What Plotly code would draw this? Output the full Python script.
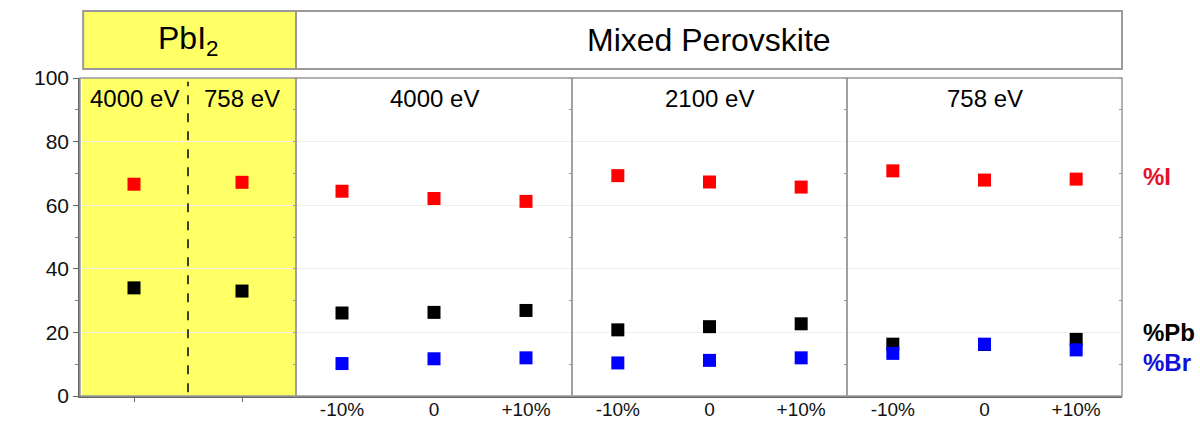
import plotly.graph_objects as go

# ---------------- data ----------------
pbi2_energies = ["4000 eV", "758 eV"]
pbi2_I = [66.6, 67.2]
pbi2_Pb = [34.0, 33.0]

mixed_energies = ["4000 eV", "2100 eV", "758 eV"]
mixed_cats = ["-10%", "0", "+10%"]
mixed_I = [[64.4, 62.1, 61.2], [69.3, 67.3, 65.7], [70.8, 67.9, 68.2]]
mixed_Pb = [[26.1, 26.3, 26.9], [20.8, 21.8, 22.7], [16.3, 16.2, 17.8]]
mixed_Br = [[10.2, 11.7, 12.0], [10.4, 11.2, 12.0], [13.4, 16.3, 14.5]]

y_ticks = [0, 20, 40, 60, 80, 100]
header_labels = ["PbI<sub>2</sub>", "Mixed Perovskite"]
series_labels = ["%I", "%Pb", "%Br"]
series_colors = ["#ff0000", "#000000", "#0000ff"]
label_colors = ["#e4112b", "#000000", "#1010d8"]
label_y = [68.9, 20.1, 10.4]

# ---------------- layout geometry ----------------
W, H = 1200, 423
ml, mr, mt, mb = 80, 78, 10, 27
pw = W - ml - mr
ph = H - mt - mb
edges_px = [80, 296, 572, 847, 1122]
edges = [(e - ml) / pw for e in edges_px]
ytop = (396 - 78) / ph
hdr_bot = (396 - 69) / ph
hdr_top = (396 - 11) / ph

FONT = "Liberation Sans, Arial, sans-serif"
GRAY = "#9a9a9a"

fig = go.Figure()

msize = 13
# PbI2 panel
for vals, col in [(pbi2_I, series_colors[0]), (pbi2_Pb, series_colors[1])]:
    fig.add_trace(go.Scatter(x=pbi2_energies, y=vals, mode="markers", xaxis="x", yaxis="y",
                             marker=dict(symbol="square", size=msize, color=col), showlegend=False))
# Mixed panels
for i in range(3):
    xa = "x%d" % (i + 2)
    for vals, col in [(mixed_I[i], series_colors[0]), (mixed_Pb[i], series_colors[1]),
                      (mixed_Br[i], series_colors[2])]:
        fig.add_trace(go.Scatter(x=mixed_cats, y=vals, mode="markers", xaxis=xa, yaxis="y",
                                 marker=dict(symbol="square", size=msize, color=col), showlegend=False))

layout = dict(
    width=W, height=H, margin=dict(l=ml, r=mr, t=mt, b=mb, autoexpand=False),
    paper_bgcolor="white", plot_bgcolor="white",
    font=dict(family=FONT, color="black"),
    yaxis=dict(domain=[0, ytop], range=[0, 100], tickvals=y_ticks, ticks="outside", ticklen=5,
               tickcolor="#666", tickfont=dict(size=21, family=FONT, color="#111"),
               showline=True, linecolor="#666", linewidth=1.5, showgrid=True, gridcolor="#efefef",
               zeroline=False, minor=dict(dtick=10, ticks="outside", ticklen=3, tickcolor="#888", showgrid=False),
               anchor="x", fixedrange=True, automargin=False),
    xaxis=dict(domain=[edges[0], edges[1]], type="category", categoryarray=pbi2_energies,
               range=[-0.5, 1.5], showticklabels=False, ticks="outside", ticklen=4, tickcolor="#666",
               showline=True, linecolor="#666", linewidth=1.5, showgrid=False, zeroline=False, anchor="y",
               automargin=False),
)
for i in range(3):
    layout["xaxis%d" % (i + 2)] = dict(
        domain=[edges[i + 1], edges[i + 2]], type="category", categoryarray=mixed_cats,
        range=[-0.5, 2.5], tickfont=dict(size=19, family=FONT, color="#111"), ticks="",
        ticklabelstandoff=-5,
        showline=True, linecolor="#666", linewidth=1.5, showgrid=False, zeroline=False, anchor="y",
        automargin=False)
# small ticks on the panel dividers
for j, e in enumerate(edges[1:]):
    layout["yaxis%d" % (j + 2)] = dict(
        domain=[0, ytop], range=[0, 100], overlaying="y", anchor="free", position=e,
        dtick=10, ticks="outside", ticklen=3, tickcolor="#999", showticklabels=False,
        showline=False, showgrid=False, zeroline=False, automargin=False)
fig.update_layout(**layout)
for j in range(4):
    fig.add_trace(go.Scatter(x=[None], y=[None], xaxis="x", yaxis="y%d" % (j + 2), showlegend=False,
                             hoverinfo="skip"))

shapes = []
shapes.append(dict(type="rect", xref="paper", yref="paper", x0=edges[0] + 0.002, x1=edges[1],
                   y0=0, y1=ytop, fillcolor="#ffff66", line=dict(width=0), layer="below"))
for i in range(4):
    shapes.append(dict(type="rect", xref="paper", yref="paper", x0=edges[i], x1=edges[i + 1],
                       y0=0, y1=ytop, line=dict(color=GRAY, width=1.5), layer="above"))
shapes.append(dict(type="line", xref="x", yref="paper", x0=0.5, x1=0.5, y0=0.01, y1=ytop - 0.01,
                   line=dict(color="black", width=1.5, dash="dash")))
shapes.append(dict(type="rect", xref="paper", yref="paper", x0=edges[0] + 0.003, x1=edges[1],
                   y0=hdr_bot, y1=hdr_top, fillcolor="#ffff66", line=dict(color=GRAY, width=2)))
shapes.append(dict(type="rect", xref="paper", yref="paper", x0=edges[1], x1=edges[4],
                   y0=hdr_bot, y1=hdr_top, fillcolor="white", line=dict(color=GRAY, width=2)))
fig.update_layout(shapes=shapes)

ann = []
hy = (hdr_bot + hdr_top) / 2
ann.append(dict(xref="paper", yref="paper", x=(edges[0] + edges[1]) / 2, y=hy, xanchor="center",
                yanchor="middle", text=header_labels[0], showarrow=False, font=dict(size=32, family=FONT)))
ann.append(dict(xref="paper", yref="paper", x=(edges[1] + edges[4]) / 2, y=hy, xanchor="center",
                yanchor="middle", text=header_labels[1], showarrow=False, font=dict(size=32, family=FONT)))
for k, en in enumerate(pbi2_energies):
    ann.append(dict(xref="x", yref="y", x=en, y=93.5, text=en, showarrow=False, yanchor="middle",
                    font=dict(size=24, family=FONT)))
for i, en in enumerate(mixed_energies):
    ann.append(dict(xref="x%d domain" % (i + 2), yref="y", x=0.5, y=93.5, text=en, showarrow=False,
                    yanchor="middle", font=dict(size=24, family=FONT)))
for lab, col, yy in zip(series_labels, label_colors, label_y):
    ann.append(dict(xref="paper", yref="y", x=(1141 - ml) / pw, y=yy, xanchor="left", yanchor="middle",
                    text="<b>%s</b>" % lab, showarrow=False, font=dict(size=24, family=FONT, color=col)))
fig.update_layout(annotations=ann)

fig.write_html("out.html")
